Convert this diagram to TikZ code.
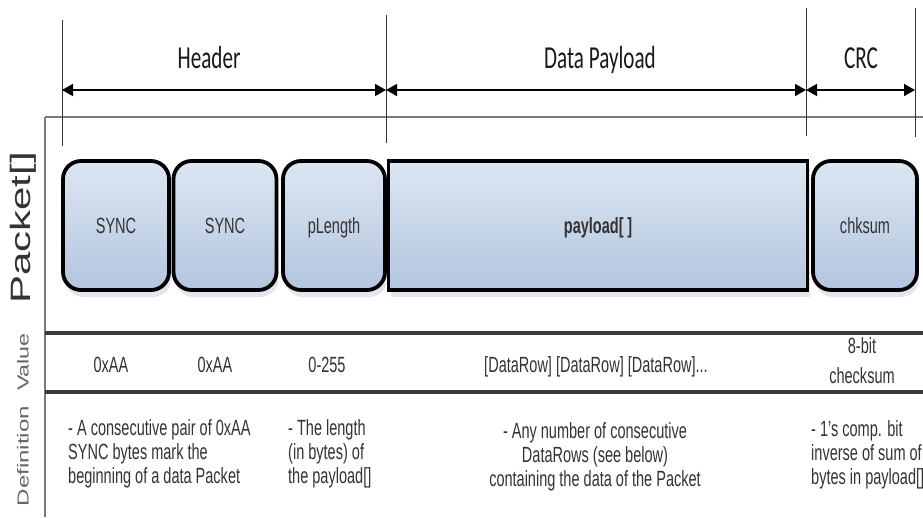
\documentclass[tikz,border=0pt]{standalone}
\usepackage{fontspec}
\setmainfont{Liberation Sans}[FakeStretch=0.66]
\newfontfamily\hdrfont{Carlito}[FakeStretch=0.66]
\newfontfamily\widefont{Liberation Sans}
\usetikzlibrary{arrows.meta,shadows}
\definecolor{boxtop}{HTML}{DDE6F2}
\definecolor{boxbot}{HTML}{B3C5DF}
\definecolor{txt}{HTML}{333333}
\definecolor{framec}{HTML}{7A7A7A}
\definecolor{sepc}{HTML}{3A3A3A}
\definecolor{sidec}{HTML}{666666}
\begin{document}
\begin{tikzpicture}[x=1pt,y=-1pt,
  cellbase/.style={draw=black, line width=3.8pt, top color=boxtop, bottom color=boxbot,
    text=txt, font=\fontsize{22}{24}\selectfont, inner sep=0pt, minimum height=129pt,
    text height=15.8pt, text depth=0pt,
    drop shadow={shadow xshift=2pt, shadow yshift=-7pt, opacity=0.10, fill=black!60!blue}},
  roundcell/.style={cellbase, rounded corners=18pt},
  squarecell/.style={cellbase},
  dimline/.style={line width=1.6pt, {Triangle[length=11pt,width=12pt]}-{Triangle[length=11pt,width=12pt]}},
  tick/.style={line width=0.9pt, black!80},
  hdrlabel/.style={font=\hdrfont\fontsize{32}{34}\selectfont, text=black!90, anchor=base, inner sep=0pt},
  vallabel/.style={font=\fontsize{22}{30}\selectfont, text=txt, anchor=base, inner sep=0pt},
  deflabel/.style={font=\fontsize{22}{24}\selectfont, text=txt, anchor=north west, align=left, inner sep=0pt},
  defmid/.style={font=\fontsize{22}{24}\selectfont, text=txt, anchor=north, align=center, inner sep=0pt},
  sidelabel/.style={rotate=90, inner sep=0pt},
  frameline/.style={line width=1.3pt, framec},
  sepline/.style={line width=3.6pt, sepc}
]
\useasboundingbox (0,0) rectangle (923,517);
\fill[white] (0,0) rectangle (923,517);

% frame
\coordinate (ftl) at (45,117);
\coordinate (ftr) at (923,117);
\coordinate (fbl) at (45,517);
\draw[frameline] (ftl) -- (ftr);
\draw[frameline] (ftl) -- (fbl);

% dimension ticks
\coordinate (t1a) at (62,20);   \coordinate (t1b) at (62,146);
\coordinate (t2a) at (386,15);  \coordinate (t2b) at (386,143);
\coordinate (t3a) at (806,8);   \coordinate (t3b) at (806,136);
\coordinate (t4a) at (915,8);   \coordinate (t4b) at (915,137);
\draw[tick] (t1a) -- (t1b);
\draw[tick] (t2a) -- (t2b);
\draw[tick] (t3a) -- (t3b);
\draw[tick] (t4a) -- (t4b);

% arrows
\coordinate (a1) at (62,90);
\coordinate (a2) at (386,90);
\coordinate (a3) at (806,90);
\coordinate (a4) at (915,90);
\draw[dimline] (a1) -- (a2);
\draw[dimline] (a2) -- (a3);
\draw[dimline] (a3) -- (a4);

\node[hdrlabel] (hdr) at (209,68) {Header};
\node[hdrlabel] (dpl) at (600,68) {Data Payload};
\node[hdrlabel] (crc) at (861,68) {CRC};

% boxes
\node[roundcell, minimum width=106pt] (sync1) at (116,225.5) {SYNC};
\node[roundcell, minimum width=103pt] (sync2) at (225,225.5) {SYNC};
\node[roundcell, minimum width=102pt] (plen) at (334,225.5) {pLength};
\node[squarecell, minimum width=419pt, font=\bfseries\fontsize{22}{24}\selectfont] (pay) at (598,225.5) {payload[\,]};
\node[roundcell, minimum width=104pt] (chk) at (865,225.5) {chksum};

% separators
\coordinate (s1a) at (45,333); \coordinate (s1b) at (923,333);
\coordinate (s2a) at (45,392); \coordinate (s2b) at (923,392);
\draw[sepline] (s1a) -- (s1b);
\draw[sepline] (s2a) -- (s2b);

% side labels
\node[sidelabel, text=black!80, font=\widefont\fontsize{28}{30}\selectfont] (pk) at (23,228) {\scalebox{1.5}[1]{Packet[]}};
\node[sidelabel, text=sidec, font=\widefont\fontsize{16}{18}\selectfont] (vl) at (23,362) {\scalebox{1.45}[1]{Value}};
\node[sidelabel, text=sidec, font=\widefont\fontsize{16}{18}\selectfont] (df) at (23,456) {\scalebox{1.5}[1]{Definition}};

% values
\node[vallabel] (v1) at (111,372) {0xAA};
\node[vallabel] (v2) at (215,372) {0xAA};
\node[vallabel] (v3) at (327,372) {0-255};
\node[vallabel] (v4) at (596,372) {[DataRow] [DataRow] [DataRow]...};
\node[vallabel, anchor=north, align=center] (v5) at (862,337) {8-bit\\checksum};

% definitions
\node[deflabel] (d1) at (68,419) {- A consecutive pair of 0xAA\\SYNC bytes mark the\\beginning of a data Packet};
\node[deflabel] (d2) at (288,419) {- The length\\(in bytes) of\\the payload[]};
\node[defmid] (d3) at (595,422) {- Any number of consecutive\\DataRows (see below)\\containing the data of the Packet};
\node[deflabel] (d4) at (811,420) {- 1's comp. bit\\inverse of sum of\\bytes in payload[]};
\end{tikzpicture}
\end{document}
